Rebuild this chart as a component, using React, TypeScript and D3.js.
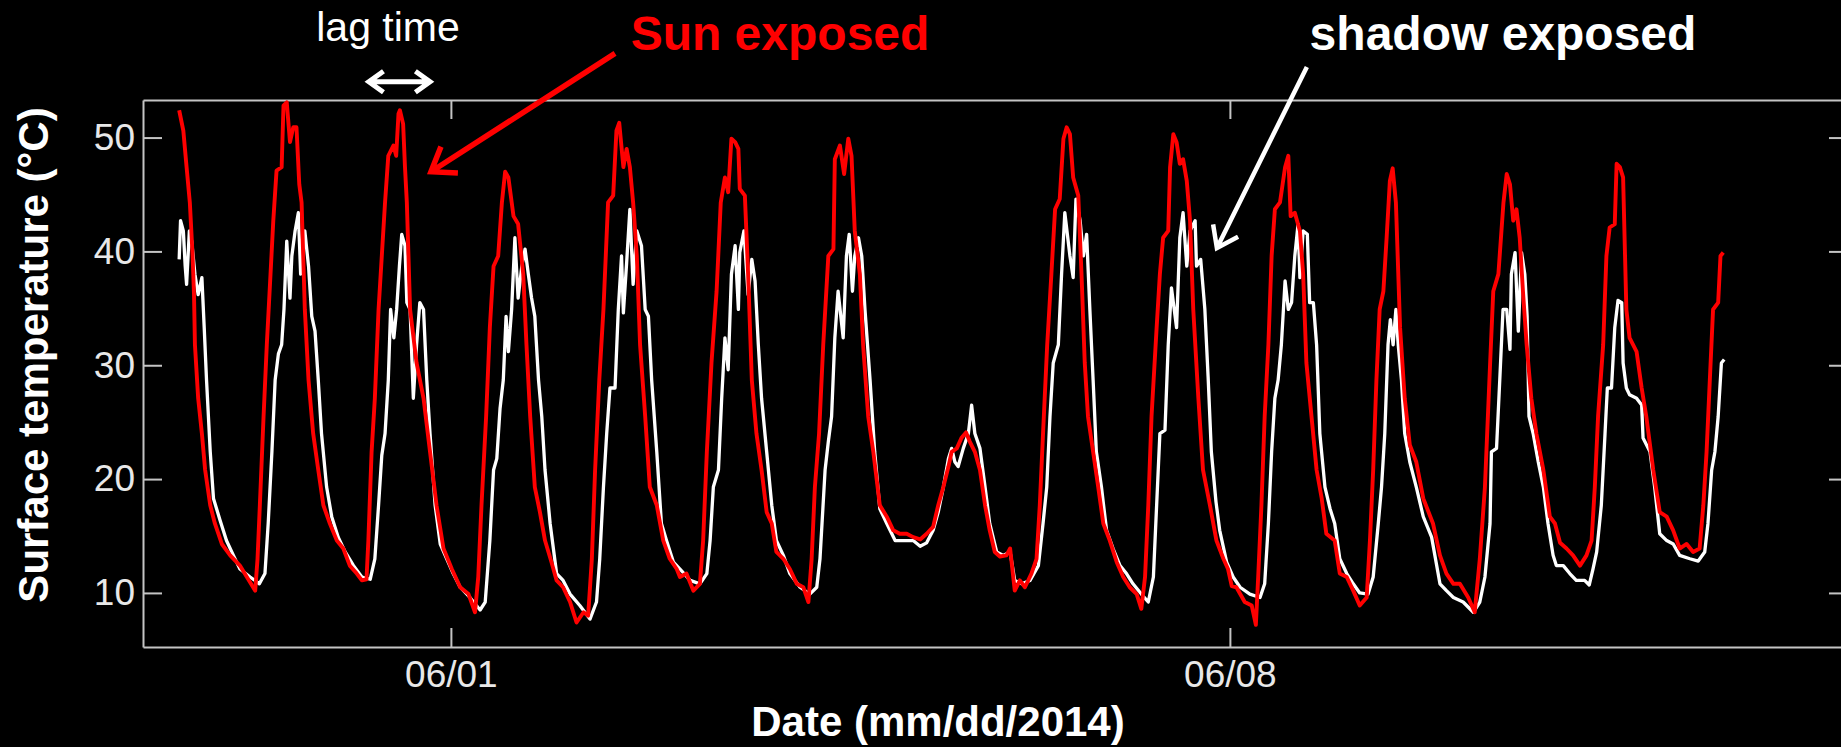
import React, { useRef, useEffect } from 'react';
import * as d3 from 'd3';

// time = hours after 2014-05-29 00:00, value = surface temperature (°C)
const sunExposed: [number, number][] = [
    [13.4, 52.4], [14.3, 50.6], [15.0, 47.4], [15.7, 44.3], [16.3, 39.6], [16.6, 36.2], [16.8, 31.8], [17.5, 27.1], [18.3, 24.0], [19.0, 20.8],
    [20.1, 17.7], [21.1, 16.1], [22.6, 14.3], [24.4, 13.3], [26.5, 12.4], [28.0, 11.4], [29.8, 10.2], [30.3, 13.0], [30.8, 17.7], [31.6, 25.5],
    [32.3, 31.8], [33.1, 38.0], [33.7, 42.7], [34.4, 47.1], [35.5, 47.4], [35.9, 52.8], [36.6, 53.1], [37.3, 49.6], [38.0, 50.9], [38.7, 50.9],
    [39.3, 45.9], [39.8, 44.3], [40.5, 34.9], [41.3, 28.7], [42.3, 24.0], [43.4, 20.8], [44.5, 17.7], [45.9, 16.1], [47.4, 14.6], [48.8, 13.9],
    [50.2, 12.4], [51.7, 11.7], [52.8, 11.1], [53.8, 11.2], [54.2, 14.6], [54.9, 22.4], [55.6, 27.1], [56.4, 34.9], [57.1, 39.6], [57.8, 44.3],
    [58.5, 48.4], [59.6, 49.3], [60.2, 48.4], [60.7, 52.1], [61.0, 52.4], [61.7, 51.2], [62.1, 47.4], [62.5, 44.3], [63.2, 34.9], [64.6, 30.2],
    [66.1, 27.1], [67.5, 22.4], [68.9, 17.7], [70.4, 13.9], [72.2, 12.1], [74.0, 10.5], [75.8, 9.9], [77.2, 8.3], [77.9, 11.4], [78.6, 17.7],
    [79.6, 25.5], [80.4, 33.3], [81.2, 38.7], [82.2, 39.6], [83.0, 44.3], [83.7, 47.0], [84.4, 46.5], [85.5, 43.1], [86.5, 42.4], [87.6, 38.0],
    [88.3, 31.8], [89.1, 25.5], [90.1, 19.3], [91.2, 17.1], [92.3, 14.6], [93.7, 12.7], [94.8, 11.1], [96.2, 10.5], [97.7, 9.2], [99.1, 7.4],
    [100.6, 8.3], [101.6, 8.0], [102.4, 13.0], [103.1, 20.8], [104.0, 28.7], [104.9, 34.9], [105.9, 44.3], [107.0, 44.9], [107.7, 50.6], [108.3, 51.3],
    [109.2, 47.4], [109.9, 49.0], [110.6, 47.4], [111.3, 44.3], [112.1, 39.6], [112.8, 31.8], [113.9, 25.5], [114.9, 19.3], [116.4, 17.7], [117.8, 14.6],
    [119.2, 13.0], [120.7, 12.1], [121.4, 11.4], [122.8, 11.7], [124.3, 10.2], [125.7, 10.8], [126.4, 14.6], [127.2, 22.4], [128.2, 30.2], [129.3, 36.5],
    [130.2, 44.3], [131.1, 46.5], [131.8, 45.2], [132.5, 49.9], [133.3, 49.6], [134.0, 49.0], [134.3, 45.5], [135.4, 44.9], [136.1, 38.0], [136.9, 28.7],
    [137.9, 24.0], [139.0, 20.8], [140.1, 17.1], [141.2, 16.1], [142.2, 13.6], [143.7, 13.0], [145.1, 12.1], [146.6, 10.8], [148.0, 10.5], [149.1, 9.2],
    [149.8, 13.0], [150.5, 19.3], [151.4, 24.0], [152.3, 31.8], [153.4, 39.6], [154.5, 40.2], [154.8, 48.1], [155.9, 49.3], [156.8, 46.8], [157.7, 49.9],
    [158.4, 48.4], [159.1, 41.8], [160.2, 38.0], [160.9, 31.8], [162.0, 25.5], [163.1, 22.4], [164.5, 17.7], [166.0, 16.7], [167.4, 15.5], [168.8, 15.2],
    [170.3, 15.2], [171.7, 14.9], [173.2, 14.7], [174.6, 15.2], [176.0, 15.8], [177.1, 17.7], [178.2, 19.3], [179.3, 21.1], [180.0, 22.4], [181.1, 22.7],
    [182.1, 23.6], [183.1, 24.1], [183.9, 23.3], [185.0, 22.4], [186.1, 20.8], [187.2, 17.7], [188.2, 15.5], [189.3, 13.6], [190.4, 13.2], [191.8, 13.3],
    [192.6, 13.9], [193.6, 10.2], [194.7, 11.1], [195.8, 10.5], [197.2, 11.7], [198.3, 13.0], [199.0, 17.7], [199.7, 24.0], [200.6, 31.8], [201.5, 38.0],
    [202.3, 43.7], [203.3, 44.6], [204.1, 49.9], [204.8, 50.9], [205.5, 50.3], [206.2, 46.5], [207.3, 44.9], [208.0, 38.0], [208.7, 30.2], [209.4, 25.5],
    [210.5, 22.4], [211.6, 19.3], [212.7, 16.1], [214.1, 14.6], [215.6, 12.7], [217.0, 11.4], [218.4, 10.5], [219.9, 9.9], [220.9, 8.6], [221.7, 11.4],
    [222.4, 17.7], [223.1, 25.5], [224.2, 33.3], [224.9, 38.0], [225.6, 41.2], [226.7, 41.8], [227.1, 47.4], [227.8, 50.3], [228.5, 49.6], [229.2, 47.7],
    [229.9, 48.1], [230.7, 46.2], [231.4, 42.7], [232.1, 34.9], [233.2, 27.1], [234.2, 20.8], [235.7, 17.7], [237.1, 14.6], [238.6, 13.0], [239.6, 12.1],
    [240.4, 10.6], [241.4, 10.5], [243.2, 9.2], [244.7, 8.9], [245.6, 7.2], [246.1, 11.4], [246.8, 17.7], [247.5, 25.5], [248.3, 31.8], [249.0, 39.6],
    [249.7, 43.7], [250.8, 44.3], [251.9, 47.4], [252.6, 48.4], [253.1, 43.1], [254.0, 43.4], [255.1, 41.8], [255.8, 38.0], [256.5, 30.2], [257.6, 25.5],
    [258.7, 20.8], [259.8, 18.3], [260.8, 15.2], [262.6, 14.6], [263.7, 11.7], [265.2, 11.4], [266.6, 10.2], [268.0, 8.9], [269.5, 9.6], [270.2, 14.6],
    [270.9, 20.8], [271.6, 28.7], [272.3, 34.9], [273.1, 36.5], [273.8, 41.2], [274.5, 46.2], [275.1, 47.3], [275.8, 44.3], [276.7, 33.3], [277.7, 27.1],
    [278.8, 23.0], [280.2, 21.5], [281.7, 18.3], [283.8, 16.1], [285.3, 13.3], [286.7, 11.7], [288.2, 10.8], [289.6, 10.8], [291.4, 9.6], [292.8, 8.3],
    [293.9, 13.0], [295.0, 19.3], [296.1, 30.0], [296.8, 36.5], [297.9, 38.0], [299.0, 44.3], [299.7, 46.8], [300.4, 45.9], [301.1, 42.7], [301.8, 43.7],
    [302.5, 41.2], [303.2, 36.5], [304.0, 31.8], [305.0, 27.1], [306.1, 24.0], [307.6, 20.8], [309.0, 16.7], [310.1, 16.1], [311.2, 14.4], [312.6, 13.9],
    [314.0, 13.3], [315.5, 12.4], [316.9, 13.3], [318.0, 14.6], [318.7, 19.3], [319.4, 25.5], [320.5, 31.8], [321.2, 39.6], [321.9, 42.1], [323.0, 42.4],
    [323.4, 47.7], [324.1, 47.4], [324.8, 46.5], [325.5, 34.9], [326.2, 32.4], [327.7, 31.2], [328.8, 28.0], [329.8, 25.5], [331.3, 20.8], [332.7, 17.1],
    [334.2, 16.7], [335.6, 15.5], [337.0, 13.9], [338.5, 14.3], [339.9, 13.6], [341.3, 13.9], [342.1, 17.7], [342.8, 22.4], [343.5, 28.7], [344.2, 34.9],
    [345.3, 35.5], [345.8, 39.6], [346.4, 39.9]
];

const shadowExposed: [number, number][] = [
    [13.4, 39.3], [13.7, 42.7], [14.3, 41.8], [14.7, 38.7], [15.0, 37.1], [15.6, 41.8], [16.1, 40.9], [16.8, 38.0], [17.5, 36.2], [18.3, 37.7],
    [18.8, 33.3], [19.3, 28.7], [20.1, 22.4], [20.8, 18.3], [22.2, 16.4], [23.6, 14.6], [25.1, 13.3], [26.5, 12.1], [28.7, 11.4], [30.7, 10.8],
    [31.9, 11.7], [32.6, 16.1], [33.4, 22.4], [34.1, 28.7], [34.8, 31.0], [35.5, 31.8], [36.0, 34.9], [36.6, 40.9], [37.3, 35.9], [37.7, 39.6],
    [38.4, 41.8], [39.1, 43.4], [39.6, 38.0], [40.5, 41.8], [41.3, 38.7], [42.0, 34.3], [42.7, 33.0], [43.4, 28.7], [44.1, 24.0], [45.2, 19.3],
    [46.3, 16.7], [47.7, 14.9], [49.2, 13.6], [51.0, 12.4], [52.8, 11.4], [54.6, 11.2], [55.6, 13.0], [56.4, 17.7], [57.1, 22.1], [57.8, 24.0],
    [58.5, 28.7], [59.0, 34.9], [59.7, 32.4], [60.3, 34.9], [60.9, 38.7], [61.4, 41.5], [62.1, 40.5], [62.5, 35.5], [63.2, 34.9], [63.9, 27.1],
    [64.6, 31.8], [65.3, 35.5], [66.1, 34.9], [66.8, 28.7], [67.5, 24.0], [68.6, 17.7], [69.7, 14.3], [71.1, 13.0], [72.5, 11.7], [74.0, 10.5],
    [76.1, 9.6], [78.3, 8.5], [79.4, 9.2], [80.4, 14.6], [81.2, 20.8], [81.9, 21.8], [82.6, 26.2], [83.3, 28.7], [83.9, 34.3], [84.4, 31.2],
    [85.1, 34.9], [85.8, 41.2], [86.5, 35.9], [87.3, 38.7], [88.0, 40.2], [88.7, 38.0], [89.4, 35.9], [90.1, 34.3], [90.9, 28.7], [91.6, 25.5],
    [92.3, 20.8], [93.4, 16.1], [94.8, 11.7], [96.2, 11.1], [97.7, 9.9], [99.8, 8.9], [102.0, 7.7], [103.4, 9.2], [104.1, 13.0], [104.9, 19.3],
    [105.6, 24.0], [106.3, 28.0], [107.4, 28.0], [108.1, 34.9], [108.8, 39.6], [109.2, 34.6], [109.9, 39.0], [110.6, 43.7], [111.3, 37.1], [112.1, 41.8],
    [113.1, 40.5], [113.9, 34.9], [114.6, 34.3], [115.3, 28.7], [116.4, 22.4], [117.4, 16.1], [118.5, 14.6], [120.0, 12.7], [121.4, 12.1], [123.6, 11.1],
    [125.7, 10.8], [127.2, 11.7], [127.9, 14.6], [128.6, 19.3], [129.7, 20.8], [130.4, 27.1], [131.1, 32.4], [131.8, 29.6], [132.5, 38.0], [133.3, 40.5],
    [134.0, 34.9], [134.3, 39.9], [135.2, 41.8], [136.1, 36.2], [136.9, 39.3], [137.6, 37.4], [138.3, 31.8], [139.0, 27.1], [140.1, 22.4], [141.2, 17.7],
    [142.2, 14.6], [143.7, 13.3], [145.1, 11.7], [147.3, 10.5], [149.4, 9.9], [150.9, 10.5], [151.6, 13.0], [152.7, 20.8], [153.4, 23.3], [154.1, 25.5],
    [154.8, 32.4], [155.5, 36.5], [156.6, 32.4], [157.3, 39.6], [157.9, 41.5], [158.6, 36.5], [159.1, 39.6], [159.9, 41.2], [160.6, 39.6], [161.3, 34.9],
    [162.4, 28.7], [163.4, 22.4], [164.5, 17.4], [166.0, 16.1], [167.8, 14.6], [169.6, 14.6], [171.7, 14.6], [173.2, 14.1], [174.6, 14.4], [176.0, 15.5],
    [177.1, 17.1], [178.2, 19.3], [179.3, 21.8], [180.0, 22.7], [180.7, 21.5], [181.4, 21.1], [182.5, 22.7], [183.6, 24.0], [184.3, 26.5], [185.0, 24.0],
    [186.1, 22.7], [187.2, 19.3], [188.2, 16.1], [189.7, 13.6], [191.1, 13.3], [192.6, 13.6], [193.6, 11.1], [195.1, 10.8], [196.9, 11.1], [198.7, 12.4],
    [199.7, 16.1], [200.5, 19.3], [201.2, 25.5], [201.9, 30.2], [203.0, 31.8], [203.7, 38.0], [204.4, 43.4], [205.5, 39.6], [206.2, 37.7], [206.8, 44.6],
    [207.7, 42.7], [208.4, 39.6], [209.1, 41.5], [209.8, 34.9], [210.5, 28.7], [211.2, 22.4], [212.3, 19.3], [213.4, 15.5], [214.8, 13.9], [216.3, 12.4],
    [217.7, 11.7], [219.1, 10.8], [220.9, 9.9], [222.4, 9.2], [223.5, 11.4], [224.2, 17.7], [224.9, 24.0], [226.0, 24.3], [226.7, 31.8], [227.4, 36.8],
    [228.5, 33.3], [229.2, 41.2], [229.9, 43.4], [230.7, 38.7], [231.4, 41.8], [232.5, 42.7], [232.8, 38.7], [233.7, 39.3], [234.6, 34.9], [235.3, 29.0],
    [236.0, 22.4], [237.0, 18.0], [237.8, 15.5], [239.3, 12.7], [240.7, 11.4], [242.2, 10.5], [244.3, 9.9], [246.5, 9.6], [247.5, 10.8], [248.3, 16.1],
    [249.0, 22.4], [249.7, 27.1], [250.4, 28.7], [251.1, 31.8], [251.9, 37.4], [252.6, 34.9], [253.3, 35.5], [254.0, 39.6], [254.7, 42.4], [255.1, 37.7],
    [255.8, 41.8], [256.7, 41.5], [257.2, 35.5], [258.0, 35.5], [258.7, 31.8], [259.4, 24.0], [260.5, 19.3], [261.6, 17.4], [262.6, 16.1], [263.7, 13.0],
    [265.2, 11.7], [266.6, 10.8], [268.0, 10.0], [269.8, 9.9], [270.9, 11.4], [272.0, 16.1], [272.7, 19.3], [273.4, 24.0], [274.1, 31.8], [274.6, 34.0],
    [275.2, 31.8], [275.8, 34.9], [276.3, 31.8], [277.0, 28.7], [277.7, 24.0], [278.8, 21.5], [280.2, 19.3], [281.7, 16.7], [283.5, 14.9], [285.3, 10.8],
    [286.7, 10.2], [288.2, 9.6], [290.3, 9.2], [292.5, 8.3], [293.9, 9.2], [295.0, 11.4], [296.1, 16.1], [296.4, 22.4], [297.5, 22.7], [298.2, 28.7],
    [298.9, 34.9], [299.7, 34.9], [300.4, 31.4], [300.7, 38.0], [301.5, 39.9], [302.2, 33.0], [302.9, 39.9], [303.6, 38.0], [304.1, 34.3], [304.5, 25.5],
    [305.4, 24.0], [306.5, 21.5], [307.6, 19.3], [308.6, 16.1], [309.7, 13.3], [310.4, 12.4], [311.9, 12.4], [313.3, 11.7], [314.7, 11.1], [316.5, 11.1],
    [317.5, 10.7], [318.3, 12.1], [319.1, 13.6], [320.1, 17.7], [320.9, 24.0], [321.4, 28.0], [322.3, 28.0], [323.0, 33.3], [323.7, 35.7], [324.5, 35.5],
    [324.8, 30.2], [325.5, 28.0], [326.2, 27.4], [327.7, 27.1], [328.8, 26.5], [329.1, 23.6], [330.6, 22.4], [331.6, 19.3], [332.7, 15.2], [334.2, 14.6],
    [335.6, 14.3], [337.0, 13.3], [339.2, 13.0], [341.0, 12.8], [342.4, 13.6], [343.1, 16.1], [343.9, 20.8], [344.6, 22.4], [345.3, 25.5], [346.0, 30.2],
    [346.6, 30.5]
];

const yTicks = [10, 20, 30, 40, 50];
const xTickDays = ['2014-06-01', '2014-06-08'];

// annotation arrows in data units: [hours, °C] tail -> tip
const sunArrow = [[107.4, 57.4], [67.7, 47.0]];
const shadowArrow = [[256.6, 56.2], [237.2, 40.3]];
const lagArrow = [[54.3, 54.9], [67.5, 54.9]];

const FONT = "'Liberation Sans', Arial, Helvetica, sans-serif";

const App = () => {
    const width = 1841, height = 747;
    const plot = { left: 143, right: 1848, top: 100, bottom: 647 };
    const ref = useRef<SVGSVGElement>(null);

    useEffect(() => {
        const svg = d3.select(ref.current);
        svg.selectAll('*').remove();

        const start = new Date(2014, 4, 29);
        const toDate = (h: number) => new Date(start.getTime() + h * 3600 * 1000);
        const parseDay = d3.timeParse('%Y-%m-%d');

        const xScale = d3.scaleTime()
            .domain([toDate(5.6), toDate(373.3)])
            .range([plot.left, plot.right]);
        const yScale = d3.scaleLinear()
            .domain([5.25, 53.3])
            .range([plot.bottom, plot.top]);

        svg.append('rect').attr('width', width).attr('height', height).attr('fill', 'black');

        svg.append('clipPath').attr('id', 'plotClip')
            .append('rect')
            .attr('x', plot.left).attr('y', plot.top)
            .attr('width', plot.right - plot.left).attr('height', plot.bottom - plot.top);

        const axisColor = '#c4c4c4';
        const tickLen = 19;
        const styleAxis = (g: any) => {
            g.attr('font-family', FONT);
            g.select('.domain').attr('stroke', axisColor).attr('stroke-width', 2);
            g.selectAll('.tick line').attr('stroke', axisColor).attr('stroke-width', 2);
            g.selectAll('.tick text').attr('fill', '#e8e8e8').attr('font-size', 37);
        };

        const xTicks = xTickDays.map(d => parseDay(d) as Date);

        svg.append('g')
            .attr('transform', 'translate(0,' + plot.bottom + ')')
            .call(d3.axisBottom(xScale).tickValues(xTicks).tickFormat(d3.timeFormat('%m/%d') as any)
                .tickSizeInner(-tickLen).tickSizeOuter(0).tickPadding(14))
            .call(styleAxis);
        svg.append('g')
            .attr('transform', 'translate(0,' + plot.top + ')')
            .call(d3.axisTop(xScale).tickValues(xTicks).tickFormat(() => '')
                .tickSizeInner(-tickLen).tickSizeOuter(0))
            .call(styleAxis);
        svg.append('g')
            .attr('transform', 'translate(' + plot.left + ',0)')
            .call(d3.axisLeft(yScale).tickValues(yTicks).tickFormat(d3.format('d'))
                .tickSizeInner(-tickLen).tickSizeOuter(0).tickPadding(8))
            .call(styleAxis);
        svg.append('g')
            .attr('transform', 'translate(' + plot.right + ',0)')
            .call(d3.axisRight(yScale).tickValues(yTicks).tickFormat(() => '')
                .tickSizeInner(-tickLen).tickSizeOuter(0))
            .call(styleAxis);

        const line = d3.line<[number, number]>()
            .x(d => xScale(toDate(d[0])))
            .y(d => yScale(d[1]));

        const lines = svg.append('g').attr('clip-path', 'url(#plotClip)');
        lines.append('path')
            .datum(shadowExposed)
            .attr('d', line)
            .attr('fill', 'none')
            .attr('stroke', 'white')
            .attr('stroke-width', 3.3)
            .attr('stroke-linejoin', 'round');
        lines.append('path')
            .datum(sunExposed)
            .attr('d', line)
            .attr('fill', 'none')
            .attr('stroke', '#ff0000')
            .attr('stroke-width', 3.9)
            .attr('stroke-linejoin', 'round');

        // open arrowhead drawn at (x2,y2)
        const arrowPath = (a: number[][], head: number, both: boolean) => {
            const x1 = xScale(toDate(a[0][0])), y1 = yScale(a[0][1]);
            const x2 = xScale(toDate(a[1][0])), y2 = yScale(a[1][1]);
            const headAt = (tx: number, ty: number, fx: number, fy: number) => {
                const ang = Math.atan2(fy - ty, fx - tx);
                const s = 0.62;
                return 'M' + (tx + head * Math.cos(ang + s)) + ',' + (ty + head * Math.sin(ang + s)) +
                    'L' + tx + ',' + ty +
                    'L' + (tx + head * Math.cos(ang - s)) + ',' + (ty + head * Math.sin(ang - s));
            };
            let p = 'M' + x1 + ',' + y1 + 'L' + x2 + ',' + y2 + headAt(x2, y2, x1, y1);
            if (both) p += headAt(x1, y1, x2, y2);
            return p;
        };

        svg.append('path')
            .attr('d', arrowPath(sunArrow, 27, false))
            .attr('fill', 'none').attr('stroke', '#ff0000').attr('stroke-width', 5.5);
        svg.append('path')
            .attr('d', arrowPath(shadowArrow, 24, false))
            .attr('fill', 'none').attr('stroke', 'white').attr('stroke-width', 4.5);
        svg.append('path')
            .attr('d', arrowPath(lagArrow, 18, true))
            .attr('fill', 'none').attr('stroke', 'white').attr('stroke-width', 5);

        svg.append('text')
            .attr('x', 388).attr('y', 41)
            .attr('text-anchor', 'middle')
            .attr('font-family', FONT).attr('font-size', 41)
            .attr('fill', 'white')
            .text('lag time');
        svg.append('text')
            .attr('x', 780).attr('y', 50)
            .attr('text-anchor', 'middle')
            .attr('font-family', FONT).attr('font-size', 48).attr('font-weight', 'bold')
            .attr('fill', '#ff0000')
            .text('Sun exposed');
        svg.append('text')
            .attr('x', 1503).attr('y', 50)
            .attr('text-anchor', 'middle')
            .attr('font-family', FONT).attr('font-size', 48).attr('font-weight', 'bold')
            .attr('fill', 'white')
            .text('shadow exposed');
        svg.append('text')
            .attr('x', 938).attr('y', 736)
            .attr('text-anchor', 'middle')
            .attr('font-family', FONT).attr('font-size', 42).attr('font-weight', 'bold')
            .attr('fill', 'white')
            .text('Date (mm/dd/2014)');
        svg.append('text')
            .attr('transform', 'translate(48,355) rotate(-90)')
            .attr('text-anchor', 'middle')
            .attr('font-family', FONT).attr('font-size', 42).attr('font-weight', 'bold')
            .attr('fill', 'white')
            .text('Surface temperature (°C)');
    }, []);

    return (
        <svg
            ref={ref}
            width={width}
            height={height}
            style={{ position: 'absolute', left: 0, top: 0, display: 'block', background: 'black' }}
        />
    );
};

export default App;
